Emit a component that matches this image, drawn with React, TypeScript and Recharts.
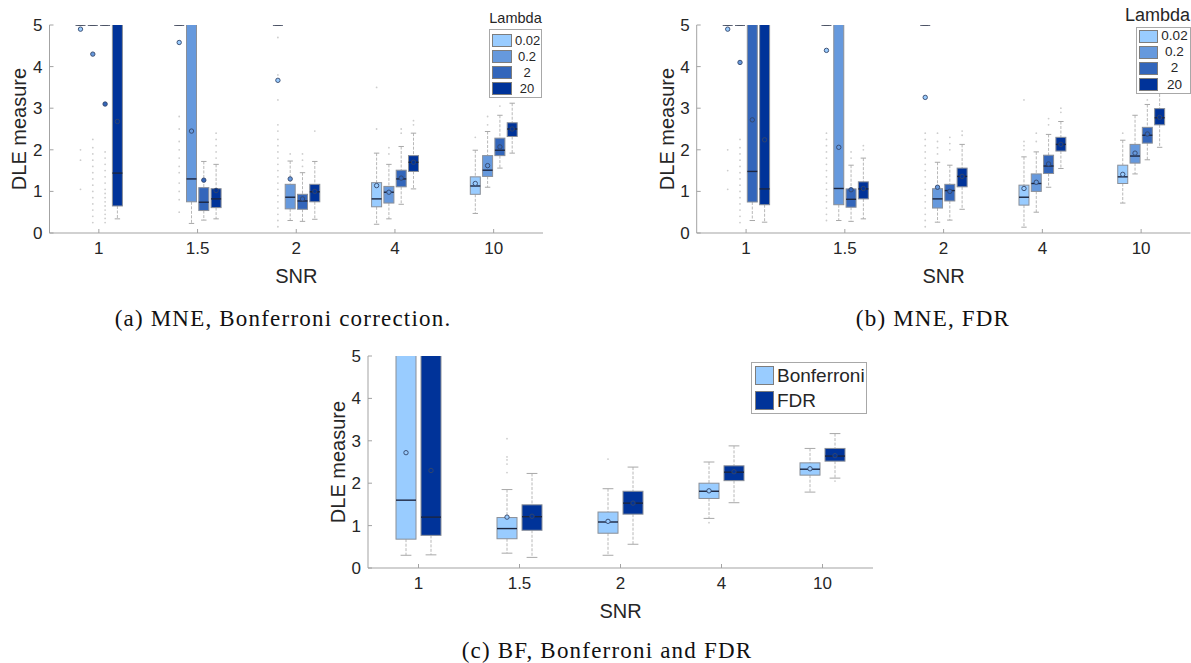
import React from 'react';
import { ComposedChart, Bar, XAxis, YAxis, Legend } from 'recharts';

const FONT = '"Liberation Sans", Arial, sans-serif';
const SERIF = '"Liberation Serif", "Times New Roman", serif';
const INK = '#262626';
const AXIS = '#a3a3a3';

const snr = ['1', '1.5', '2', '4', '10'];
const yTicks = [0, 1, 2, 3, 4, 5];

const lambdas = ['0.02', '0.2', '2', '20'];
const lambdaColors = ['#99CCFF', '#6699DD', '#3366BB', '#003399'];
const corrections = ['Bonferroni', 'FDR'];
const correctionColors = ['#99CCFF', '#003399'];

// box stats per SNR: [lower whisker, q1, median, q3, upper whisker, mean]
// anything above 5 sits outside the plotted range
const mneBonfL002 = [[5, 5, 5, 5, 5, 4.9], [5, 5, 5, 5, 5, 4.58], [5, 5, 5, 5, 5, 3.67], [0.21, 0.63, 0.82, 1.21, 1.92, 1.14], [0.47, 0.93, 1.13, 1.35, 1.99, 1.19]];
const mneBonfL02 = [[5, 5, 5, 5, 5, 4.3], [0.23, 0.75, 1.3, 6.5, 9, 2.45], [0.3, 0.58, 0.86, 1.17, 1.73, 1.3], [0.34, 0.72, 0.98, 1.12, 1.65, 0.98], [1.1, 1.36, 1.51, 1.86, 2.44, 1.62]];
const mneBonfL2 = [[5, 5, 5, 5, 5, 3.1], [0.31, 0.54, 0.74, 1.09, 1.72, 1.27], [0.28, 0.57, 0.77, 0.93, 1.45, 0.82], [0.69, 1.11, 1.3, 1.51, 2.08, 1.32], [1.56, 1.86, 1.99, 2.28, 2.83, 2.07]];
const mneBonfL20 = [[0.34, 0.65, 1.44, 7, 10, 2.68], [0.34, 0.61, 0.82, 1.065, 1.65, 1.02], [0.33, 0.75, 0.99, 1.17, 1.72, 1.0], [1.06, 1.48, 1.7, 1.86, 2.4, 1.7], [1.92, 2.32, 2.5, 2.65, 3.12, 2.5]];

const mneFdrL002 = [[5, 5, 5, 5, 5, 4.9], [5, 5, 5, 5, 5, 4.39], [5, 5, 5, 5, 5, 3.26], [0.14, 0.67, 0.86, 1.15, 1.83, 1.07], [0.72, 1.19, 1.35, 1.63, 2.23, 1.41]];
const mneFdrL02 = [[5, 5, 5, 5, 5, 4.1], [0.3, 0.68, 1.07, 7, 10, 2.06], [0.26, 0.6, 0.82, 1.065, 1.7, 1.1], [0.5, 1.0, 1.19, 1.42, 1.95, 1.22], [1.42, 1.68, 1.85, 2.13, 2.83, 1.92]];
const mneFdrL2 = [[0.3, 0.745, 1.48, 7, 10, 2.72], [0.28, 0.62, 0.81, 1.06, 1.63, 1.04], [0.31, 0.77, 1.02, 1.17, 1.63, 1.0], [1.1, 1.43, 1.61, 1.87, 2.37, 1.66], [1.76, 2.16, 2.35, 2.54, 3.09, 2.38]];
const mneFdrL20 = [[0.26, 0.68, 1.06, 7, 10, 2.24], [0.34, 0.82, 1.06, 1.23, 1.8, 1.07], [0.57, 1.11, 1.36, 1.56, 2.13, 1.36], [1.55, 1.97, 2.13, 2.3, 2.68, 2.13], [2.06, 2.6, 2.77, 2.99, 3.45, 2.78]];

const bfBonf = [[0.3, 0.68, 1.6, 7, 10, 2.72], [0.35, 0.69, 0.93, 1.19, 1.85, 1.2], [0.3, 0.82, 1.085, 1.32, 1.87, 1.1], [1.17, 1.64, 1.81, 2.0, 2.5, 1.82], [1.79, 2.19, 2.33, 2.48, 2.82, 2.34]];
const bfFdr = [[0.31, 0.77, 1.2, 7, 10, 2.3], [0.25, 0.89, 1.21, 1.49, 2.23, 1.22], [0.56, 1.27, 1.53, 1.81, 2.38, 1.53], [1.54, 2.06, 2.26, 2.41, 2.88, 2.27], [2.12, 2.52, 2.64, 2.82, 3.17, 2.65]];

// outliers per SNR
const mneBonfOutL002 = [[1.05, 1.75, 2.0], [0.5, 0.8, 1.0, 1.2, 1.45, 1.6, 1.8, 2.0, 2.2, 2.5, 2.8], [0.15, 0.3, 0.45, 0.6, 0.75, 0.9, 1.05, 1.2, 1.35, 1.5, 1.65, 1.8, 1.95, 2.1, 2.25, 2.45, 2.6, 3.2, 3.8, 4.7], [2.5, 3.5], [2.3]];
const mneBonfOutL02 = [[0.25, 0.4, 0.55, 0.7, 0.85, 1.0, 1.15, 1.3, 1.45, 1.6, 1.75, 1.9, 2.05, 2.25], [], [1.9], [1.9, 2.05], [2.6, 2.8]];
const mneBonfOutL2 = [[0.25, 0.35, 0.45, 0.55, 0.65, 0.75, 0.85, 0.95, 1.05, 1.2, 1.35, 1.5, 1.65, 1.8, 1.95], [], [1.6, 1.75, 1.9], [2.4, 2.5], [3.05]];
const mneBonfOutL20 = [[], [1.8, 1.95, 2.1, 2.25, 2.4], [2.45], [2.6, 2.7], []];

const mneFdrOutL002 = [[1.05, 1.5, 2.0], [0.3, 0.45, 0.6, 0.75, 0.9, 1.05, 1.2, 1.35, 1.5, 1.65, 1.8, 1.95, 2.1, 2.25, 2.4], [0.15, 0.3, 0.45, 0.6, 0.75, 0.9, 1.05, 1.2, 1.35, 1.5, 1.65, 1.8, 1.95, 2.1, 2.25, 2.4], [2.0, 2.1, 2.2, 3.2], [2.4]];
const mneFdrOutL02 = [[0.25, 0.4, 0.55, 0.7, 0.85, 1.0, 1.15, 1.3, 1.45, 1.6, 1.75, 1.9, 2.05, 2.25], [], [1.9, 2.05, 2.2, 2.4], [2.2, 2.4], []];
const mneFdrOutL2 = [[], [1.8, 1.95], [2.0, 2.15, 2.3], [2.6, 2.75], [3.2]];
const mneFdrOutL20 = [[], [2.0, 2.1], [2.35, 2.45], [2.9, 3.0], []];

const bfOutBonf = [[], [2.25, 2.45, 2.55, 2.62, 3.05], [2.57], [1.07], []];
const bfOutFdr = [[], [], [], [], [2.05]];

function buildRows(stats: number[][][], outs: number[][][]) {
  return snr.map((label, i) => {
    const row: Record<string, any> = { snr: label };
    stats.forEach((s, k) => {
      const [lo, q1, med, q3, hi, mean] = s[i];
      const out = outs[k][i];
      const all = [lo, hi, mean, ...out];
      row[`b${k}`] = { lo, q1, med, q3, hi, mean, out };
      // the bar spans everything the box needs, so the shape can map values itself
      row[`span${k}`] = [Math.min(...all), Math.max(...all)];
    });
    return row;
  });
}

const rowsA = buildRows([mneBonfL002, mneBonfL02, mneBonfL2, mneBonfL20], [mneBonfOutL002, mneBonfOutL02, mneBonfOutL2, mneBonfOutL20]);
const rowsB = buildRows([mneFdrL002, mneFdrL02, mneFdrL2, mneFdrL20], [mneFdrOutL002, mneFdrOutL02, mneFdrOutL2, mneFdrOutL20]);
const rowsC = buildRows([bfBonf, bfFdr], [bfOutBonf, bfOutFdr]);

function BoxShape(props: any) {
  const { x, y, width, height, payload, k, color } = props;
  const st = payload[`b${k}`];
  const [lo, hi] = payload[`span${k}`];
  if (!(hi > lo)) return null;
  const py = (v: number) => y + (height * (hi - v)) / (hi - lo);
  const cx = x + width / 2;
  const cap = width * 0.27;
  const top = py(st.q3);
  const bot = py(st.q1);
  return (
    <g>
      {st.out.map((v: number, j: number) => (
        <circle key={j} cx={cx} cy={py(v)} r={0.9} fill="#cdcdcd" />
      ))}
      <line x1={cx} x2={cx} y1={py(st.hi)} y2={top} stroke="#b8b8b8" strokeDasharray="3 1.5" />
      <line x1={cx} x2={cx} y1={bot} y2={py(st.lo)} stroke="#b8b8b8" strokeDasharray="3 1.5" />
      <line x1={cx - cap} x2={cx + cap} y1={py(st.hi)} y2={py(st.hi)} stroke="#a8a8a8" />
      <line x1={cx - cap} x2={cx + cap} y1={py(st.lo)} y2={py(st.lo)} stroke="#a8a8a8" />
      <rect x={x} y={top} width={width} height={Math.max(bot - top, 0)} fill={color} stroke="#8a8f98" />
      <line x1={x} x2={x + width} y1={py(st.med)} y2={py(st.med)} stroke="#1c2640" strokeWidth={1.4} />
      <circle cx={cx} cy={py(st.mean)} r={2.2} fill={color} stroke="#34466a" strokeWidth={0.9} />
    </g>
  );
}

function LegendBox(props: any) {
  const { title, titleSize, titleDx = 0, labels, colors, w, rowH, sw, sh, fontSize, pad, align } = props;
  return (
    <div style={{ fontFamily: FONT, color: INK }}>
      {title && (
        <div style={{ fontSize: titleSize, lineHeight: `${titleSize + 1}px`, textAlign: 'center', width: w, marginLeft: titleDx, marginBottom: 2, whiteSpace: 'nowrap' }}>
          {title}
        </div>
      )}
      <div style={{ width: w, boxSizing: 'border-box', border: '1px solid #a8a8a8', background: '#fff', padding: pad }}>
        {labels.map((l: string, i: number) => (
          <div key={l} style={{ display: 'flex', alignItems: 'center', height: rowH }}>
            <div style={{ width: sw, height: sh, background: colors[i], border: '1px solid #7d7d7d', boxSizing: 'border-box', flex: 'none' }} />
            <div style={{ flex: 1, textAlign: align, fontSize, lineHeight: `${rowH}px`, paddingLeft: 3, whiteSpace: 'nowrap' }}>{l}</div>
          </div>
        ))}
      </div>
    </div>
  );
}

function BoxPanel(props: any) {
  const { rows, colors, width, height, margin, barSize, barGap, labelDx, legend, legendPos } = props;
  const axisLine = { stroke: AXIS };
  const tickLine = { stroke: AXIS };
  return (
    <ComposedChart width={width} height={height} data={rows} margin={margin} barSize={barSize} barGap={barGap}>
      <XAxis
        dataKey="snr"
        interval={0}
        height={50}
        tickSize={-4}
        tickMargin={13}
        axisLine={axisLine}
        tickLine={tickLine}
        tick={{ fill: INK, fontSize: 17, fontFamily: FONT }}
        label={{ value: 'SNR', position: 'insideBottom', offset: 0, fill: INK, fontSize: 20, fontFamily: FONT }}
      />
      <XAxis xAxisId="top" orientation="top" dataKey="snr" interval={0} height={0} tick={false} tickSize={-4} axisLine={axisLine} tickLine={tickLine} />
      <YAxis
        type="number"
        domain={[0, 5]}
        ticks={yTicks}
        allowDataOverflow
        width={49}
        tickSize={-4}
        tickMargin={11}
        axisLine={axisLine}
        tickLine={tickLine}
        tick={{ fill: INK, fontSize: 17, fontFamily: FONT }}
        label={{ value: 'DLE measure', angle: -90, position: 'center', dx: labelDx, fill: INK, fontSize: 20, fontFamily: FONT }}
      />
      <YAxis yAxisId="right" orientation="right" type="number" domain={[0, 5]} ticks={yTicks} allowDataOverflow width={0} tick={false} tickSize={-4} axisLine={axisLine} tickLine={tickLine} />
      {colors.map((c: string, k: number) => (
        <Bar
          key={k}
          dataKey={`span${k}`}
          isAnimationActive={false}
          shape={(p: any) => <BoxShape {...p} k={k} color={c} />}
        />
      ))}
      <Legend layout="vertical" align="center" verticalAlign="middle" wrapperStyle={legendPos} content={() => legend} />
    </ComposedChart>
  );
}

const captionStyle: React.CSSProperties = {
  position: 'absolute',
  width: 500,
  textAlign: 'center',
  fontFamily: SERIF,
  fontSize: 23,
  lineHeight: '23px',
  letterSpacing: 1.2,
  color: '#111',
  whiteSpace: 'nowrap',
};

export default function App() {
  return (
    <div style={{ position: 'absolute', left: 0, top: 0, width: 1191, height: 663, background: '#fff', overflow: 'hidden' }}>
      <div style={{ position: 'absolute', left: 0, top: 0 }}>
        <BoxPanel
          rows={rowsA}
          colors={lambdaColors}
          width={560}
          height={300}
          margin={{ top: 25, right: 17, bottom: 17, left: 0.5 }}
          barSize={10}
          barGap={2.3}
          labelDx={-6}
          legendPos={{ left: 489, top: 11, width: 53 }}
          legend={<LegendBox title="Lambda" titleSize={14.5} labels={lambdas} colors={lambdaColors} w={53} rowH={16} sw={20} sh={13} fontSize={13} pad="3px 2px 0 2px" align="center" />}
        />
      </div>
      <div style={{ position: 'absolute', left: 620, top: 0 }}>
        <BoxPanel
          rows={rowsB}
          colors={lambdaColors}
          width={571}
          height={300}
          margin={{ top: 25, right: 0.5, bottom: 17, left: 27.7 }}
          barSize={10}
          barGap={2.3}
          labelDx={-5.5}
          legendPos={{ left: 516, top: 6, width: 55 }}
          legend={<LegendBox title="Lambda" titleSize={18} titleDx={-11} labels={lambdas} colors={lambdaColors} w={55} rowH={16.2} sw={19} sh={13} fontSize={13.5} pad="0 2px 0 2px" align="center" />}
        />
      </div>
      <div style={{ position: 'absolute', left: 300, top: 330 }}>
        <BoxPanel
          rows={rowsC}
          colors={correctionColors}
          width={600}
          height={300}
          margin={{ top: 26, right: 27, bottom: 12, left: 19 }}
          barSize={20}
          barGap={5}
          labelDx={-5.5}
          legendPos={{ left: 451, top: 32, width: 116 }}
          legend={<LegendBox labels={corrections} colors={correctionColors} w={116} rowH={25} sw={19} sh={19} fontSize={19} pad="0 3px 0 3px" align="left" />}
        />
      </div>
      <div style={{ ...captionStyle, left: 283 - 250, top: 307 }}>(a) MNE, Bonferroni correction.</div>
      <div style={{ ...captionStyle, left: 933 - 250, top: 307 }}>(b) MNE, FDR</div>
      <div style={{ ...captionStyle, left: 607 - 250, top: 639 }}>(c) BF, Bonferroni and FDR</div>
    </div>
  );
}
